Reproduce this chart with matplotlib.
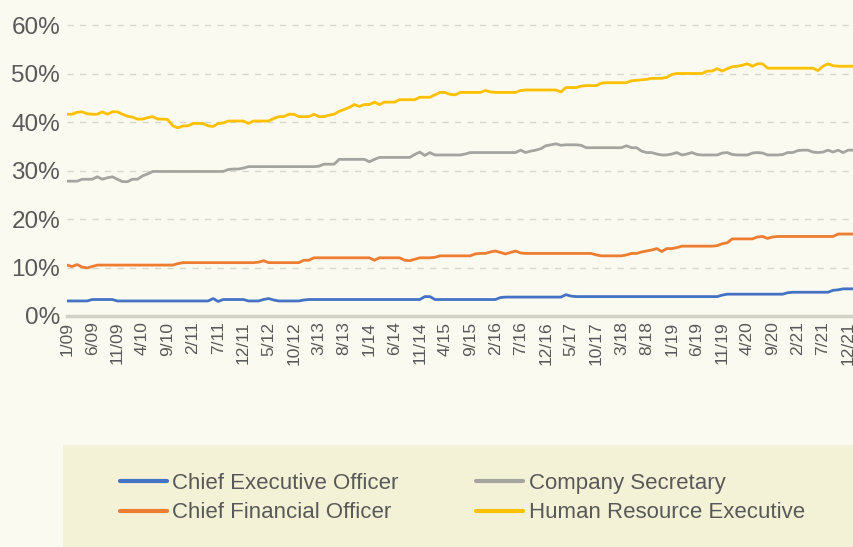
import numpy as np
import matplotlib.pyplot as plt
from matplotlib.patches import Rectangle

# share of companies (%) per month, 1/09 .. 1/22
ceo = [3.1, 3.1, 3.1, 3.1, 3.1, 3.4, 3.4, 3.4, 3.4, 3.4, 3.1, 3.1,
       3.1, 3.1, 3.1, 3.1, 3.1, 3.1, 3.1, 3.1, 3.1, 3.1, 3.1, 3.1,
       3.1, 3.1, 3.1, 3.1, 3.1, 3.6, 3.0, 3.4, 3.4, 3.4, 3.4, 3.4,
       3.1, 3.1, 3.1, 3.4, 3.6, 3.3, 3.1, 3.1, 3.1, 3.1, 3.1, 3.3,
       3.4, 3.4, 3.4, 3.4, 3.4, 3.4, 3.4, 3.4, 3.4, 3.4, 3.4, 3.4,
       3.4, 3.4, 3.4, 3.4, 3.4, 3.4, 3.4, 3.4, 3.4, 3.4, 3.4, 4.0,
       4.0, 3.4, 3.4, 3.4, 3.4, 3.4, 3.4, 3.4, 3.4, 3.4, 3.4, 3.4,
       3.4, 3.4, 3.8, 3.9, 3.9, 3.9, 3.9, 3.9, 3.9, 3.9, 3.9, 3.9,
       3.9, 3.9, 3.9, 4.4, 4.1, 4.0, 4.0, 4.0, 4.0, 4.0, 4.0, 4.0,
       4.0, 4.0, 4.0, 4.0, 4.0, 4.0, 4.0, 4.0, 4.0, 4.0, 4.0, 4.0,
       4.0, 4.0, 4.0, 4.0, 4.0, 4.0, 4.0, 4.0, 4.0, 4.0, 4.3, 4.5,
       4.5, 4.5, 4.5, 4.5, 4.5, 4.5, 4.5, 4.5, 4.5, 4.5, 4.5, 4.8,
       4.9, 4.9, 4.9, 4.9, 4.9, 4.9, 4.9, 4.9, 5.3, 5.4, 5.6, 5.6,
       5.6]

cfo = [10.5, 10.2, 10.6, 10.1, 9.9, 10.2, 10.5, 10.5, 10.5, 10.5, 10.5, 10.5,
       10.5, 10.5, 10.5, 10.5, 10.5, 10.5, 10.5, 10.5, 10.5, 10.5, 10.8, 11.0,
       11.0, 11.0, 11.0, 11.0, 11.0, 11.0, 11.0, 11.0, 11.0, 11.0, 11.0, 11.0,
       11.0, 11.0, 11.1, 11.4, 11.0, 11.0, 11.0, 11.0, 11.0, 11.0, 11.0, 11.5,
       11.5, 12.0, 12.0, 12.0, 12.0, 12.0, 12.0, 12.0, 12.0, 12.0, 12.0, 12.0,
       12.0, 11.5, 12.0, 12.0, 12.0, 12.0, 12.0, 11.5, 11.4, 11.7, 12.0, 12.0,
       12.0, 12.1, 12.4, 12.4, 12.4, 12.4, 12.4, 12.4, 12.4, 12.8, 12.9, 12.9,
       13.2, 13.4, 13.1, 12.8, 13.1, 13.4, 13.0, 12.9, 12.9, 12.9, 12.9, 12.9,
       12.9, 12.9, 12.9, 12.9, 12.9, 12.9, 12.9, 12.9, 12.9, 12.6, 12.4, 12.4,
       12.4, 12.4, 12.4, 12.6, 12.9, 12.9, 13.2, 13.4, 13.6, 13.9, 13.3, 13.9,
       13.9, 14.1, 14.4, 14.4, 14.4, 14.4, 14.4, 14.4, 14.4, 14.5, 14.9, 15.1,
       15.9, 15.9, 15.9, 15.9, 15.9, 16.3, 16.4, 16.0, 16.3, 16.4, 16.4, 16.4,
       16.4, 16.4, 16.4, 16.4, 16.4, 16.4, 16.4, 16.4, 16.4, 16.9, 16.9, 16.9,
       16.9]

cs = [27.8, 27.8, 27.8, 28.2, 28.2, 28.2, 28.7, 28.2, 28.5, 28.7, 28.2, 27.7,
      27.7, 28.2, 28.2, 28.9, 29.3, 29.8, 29.8, 29.8, 29.8, 29.8, 29.8, 29.8,
      29.8, 29.8, 29.8, 29.8, 29.8, 29.8, 29.8, 29.8, 30.2, 30.3, 30.3, 30.5,
      30.8, 30.8, 30.8, 30.8, 30.8, 30.8, 30.8, 30.8, 30.8, 30.8, 30.8, 30.8,
      30.8, 30.8, 30.9, 31.3, 31.3, 31.3, 32.3, 32.3, 32.3, 32.3, 32.3, 32.3,
      31.8, 32.3, 32.7, 32.7, 32.7, 32.7, 32.7, 32.7, 32.7, 33.3, 33.8, 33.1,
      33.7, 33.2, 33.2, 33.2, 33.2, 33.2, 33.2, 33.4, 33.7, 33.7, 33.7, 33.7,
      33.7, 33.7, 33.7, 33.7, 33.7, 33.7, 34.2, 33.7, 34.0, 34.2, 34.5, 35.1,
      35.3, 35.5, 35.2, 35.3, 35.3, 35.3, 35.2, 34.7, 34.7, 34.7, 34.7, 34.7,
      34.7, 34.7, 34.7, 35.1, 34.7, 34.7, 34.0, 33.7, 33.7, 33.4, 33.2, 33.2,
      33.4, 33.7, 33.2, 33.4, 33.7, 33.3, 33.2, 33.2, 33.2, 33.2, 33.6, 33.7,
      33.3, 33.2, 33.2, 33.2, 33.6, 33.7, 33.6, 33.2, 33.2, 33.2, 33.3, 33.7,
      33.7, 34.1, 34.2, 34.2, 33.8, 33.7, 33.8, 34.2, 33.8, 34.2, 33.7, 34.2,
      34.2]

hr = [41.6, 41.6, 42.0, 42.1, 41.7, 41.6, 41.6, 42.1, 41.6, 42.1, 42.1, 41.6,
      41.2, 41.0, 40.6, 40.6, 40.9, 41.1, 40.6, 40.6, 40.5, 39.2, 38.8, 39.2,
      39.2, 39.7, 39.7, 39.7, 39.2, 39.1, 39.7, 39.8, 40.2, 40.2, 40.2, 40.2,
      39.7, 40.2, 40.2, 40.2, 40.2, 40.7, 41.1, 41.1, 41.6, 41.6, 41.1, 41.1,
      41.1, 41.6, 41.1, 41.1, 41.4, 41.6, 42.2, 42.6, 43.0, 43.6, 43.2, 43.6,
      43.6, 44.1, 43.6, 44.1, 44.1, 44.1, 44.6, 44.6, 44.6, 44.6, 45.1, 45.1,
      45.1, 45.6, 46.1, 46.1, 45.7, 45.6, 46.1, 46.1, 46.1, 46.1, 46.1, 46.5,
      46.2, 46.1, 46.1, 46.1, 46.1, 46.1, 46.5, 46.6, 46.6, 46.6, 46.6, 46.6,
      46.6, 46.6, 46.2, 47.1, 47.1, 47.1, 47.4, 47.5, 47.5, 47.5, 48.0, 48.1,
      48.1, 48.1, 48.1, 48.1, 48.5, 48.6, 48.7, 48.8, 49.0, 49.0, 49.0, 49.2,
      49.8, 50.0, 50.0, 50.0, 50.0, 50.0, 50.0, 50.5, 50.5, 51.0, 50.5, 51.0,
      51.4, 51.5, 51.7, 52.0, 51.5, 52.0, 52.0, 51.1, 51.1, 51.1, 51.1, 51.1,
      51.1, 51.1, 51.1, 51.1, 51.1, 50.6, 51.5, 52.0, 51.6, 51.5, 51.5, 51.5,
      51.5]

tick_labels = ['1/09', '6/09', '11/09', '4/10', '9/10', '2/11', '7/11', '12/11',
               '5/12', '10/12', '3/13', '8/13', '1/14', '6/14', '11/14', '4/15',
               '9/15', '2/16', '7/16', '12/16', '5/17', '10/17', '3/18', '8/18',
               '1/19', '6/19', '11/19', '4/20', '9/20', '2/21', '7/21', '12/21']

series = [("Chief Executive Officer", ceo, '#4472C4'),
          ("Chief Financial Officer", cfo, '#ED7D31'),
          ("Company Secretary", cs, '#A5A5A0'),
          ("Human Resource Executive", hr, '#FFC000')]

plt.rcParams['font.family'] = ['Liberation Sans', 'DejaVu Sans']
txt = '#595959'
W, H = 854, 547

fig = plt.figure(figsize=(W / 100, H / 100), dpi=100, facecolor='#FBFAF0')

# legend panel at the bottom
fig.add_artist(Rectangle((63 / W, 0), 1, (H - 445) / H, transform=fig.transFigure,
                         facecolor='#F3F2D6', edgecolor='none', zorder=0))

# axes: 0% at y=316px, 4.85 px per %, month 0 at x=67px, 5.04 px per month
ymax = 62
ax = fig.add_axes([67 / W, (H - 316) / H, 156.5 * 5.04 / W, ymax * 4.85 / H])
ax.set_facecolor('none')

x = np.arange(len(hr))
for name, vals, col in series:
    ax.plot(x, vals, color=col, lw=2.0, label=name, solid_capstyle='round')

ax.set_xlim(0, 156.5)
ax.set_ylim(0, ymax)

ax.set_yticks([0, 10, 20, 30, 40, 50, 60])
ax.set_yticklabels([f"{v}%" for v in [0, 10, 20, 30, 40, 50, 60]])
ax.set_xticks(np.arange(0, 5 * len(tick_labels), 5))
ax.set_xticklabels(tick_labels, rotation=90)

ax.tick_params(axis='y', length=0, pad=5, labelsize=17.5, labelcolor=txt)
ax.tick_params(axis='x', length=0, pad=4, labelsize=12.5, labelcolor=txt)

ax.grid(axis='y', color='#D8D7CE', lw=1, dashes=(4.5, 4.5))
ax.set_axisbelow(True)
for s in ['top', 'right', 'left']:
    ax.spines[s].set_visible(False)
ax.spines['bottom'].set_color('#D3D1C6')
ax.spines['bottom'].set_linewidth(2.5)

handles, labels = ax.get_legend_handles_labels()
leg = fig.legend(handles, labels, ncol=2, loc='upper left',
                 bbox_to_anchor=(120 / W, 1 - 473 / H), frameon=False,
                 fontsize=16, handlelength=2.1, handletextpad=0.25,
                 columnspacing=3.5, labelspacing=0.38, borderpad=0,
                 borderaxespad=0)
for t in leg.get_texts():
    t.set_color(txt)
for l in leg.get_lines():
    l.set_linewidth(3)

fig.savefig('out.png', dpi=100, facecolor=fig.get_facecolor())
